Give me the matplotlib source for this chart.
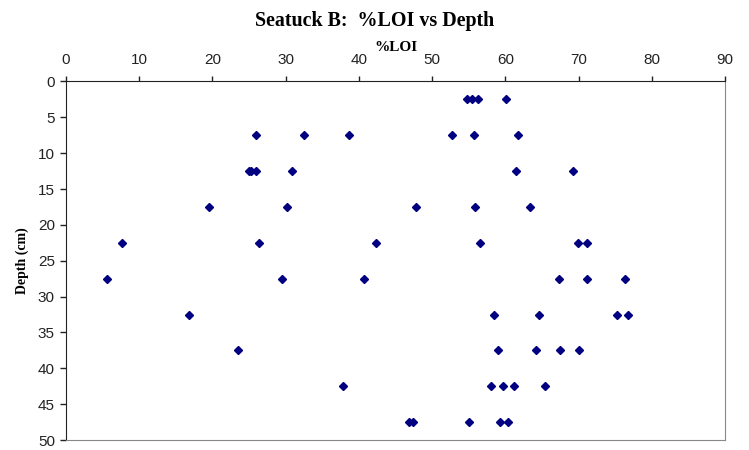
import numpy as np
import matplotlib.pyplot as plt

depth = [2.5, 2.5, 2.5, 2.5,
         7.5, 7.5, 7.5, 7.5, 7.5, 7.5,
         12.5, 12.5, 12.5, 12.5, 12.5, 12.5,
         17.5, 17.5, 17.5, 17.5, 17.5,
         22.5, 22.5, 22.5, 22.5, 22.5, 22.5,
         27.5, 27.5, 27.5, 27.5, 27.5, 27.5,
         32.5, 32.5, 32.5, 32.5, 32.5,
         37.5, 37.5, 37.5, 37.5, 37.5,
         42.5, 42.5, 42.5, 42.5, 42.5,
         47.5, 47.5, 47.5, 47.5, 47.5]
loi = [54.7, 55.5, 56.2, 60.1,
       26.0, 32.5, 38.7, 52.7, 55.7, 61.7,
       25.0, 25.2, 26.0, 30.9, 61.4, 69.3,
       19.5, 30.2, 47.8, 55.8, 63.4,
       7.7, 26.3, 42.4, 56.6, 69.9, 71.1,
       5.6, 29.5, 40.7, 67.3, 71.1, 76.4,
       16.8, 58.5, 64.6, 75.3, 76.7,
       23.5, 59.0, 64.2, 67.4, 70.0,
       37.8, 58.1, 59.7, 61.2, 65.4,
       46.9, 47.4, 55.1, 59.3, 60.4]

xticks = np.arange(0, 91, 10)
yticks = np.arange(0, 51, 5)

## Plotting

fig = plt.figure(figsize=(7.49, 4.5), dpi=100)
ax = fig.add_axes([0.0881, 0.0222, 0.8799, 0.7968])

ax.plot(loi, depth, 'D', color='#000080', markersize=4, linestyle='none')

ax.set_xlim(0, 90)
ax.set_ylim(50, 0)
ax.set_xticks(xticks)
ax.set_yticks(yticks)
ax.xaxis.tick_top()
ax.xaxis.set_label_position('top')
ax.tick_params(axis='x', direction='out', length=3.5, width=1, colors='#222222',
               labelsize=11, pad=7)
ax.tick_params(axis='y', direction='out', length=4, width=1, colors='#222222',
               labelsize=11, pad=4)
for lab in ax.get_xticklabels() + ax.get_yticklabels():
    lab.set_family('Liberation Sans')

ax.spines['top'].set_color('#222222')
ax.spines['left'].set_color('#222222')
ax.spines['right'].set_color('#888888')
ax.spines['bottom'].set_color('#888888')

ax.set_xlabel('%LOI', fontsize=11, fontweight='bold', family='Liberation Serif',
              labelpad=1)
ax.set_ylabel('Depth (cm)', fontsize=10, fontweight='bold', family='Liberation Serif',
              labelpad=6.5)
fig.suptitle('Seatuck B:  %LOI vs Depth', fontsize=14.4, fontweight='bold',
             family='Liberation Serif', y=0.976)

fig.savefig('out.png', dpi=100)
